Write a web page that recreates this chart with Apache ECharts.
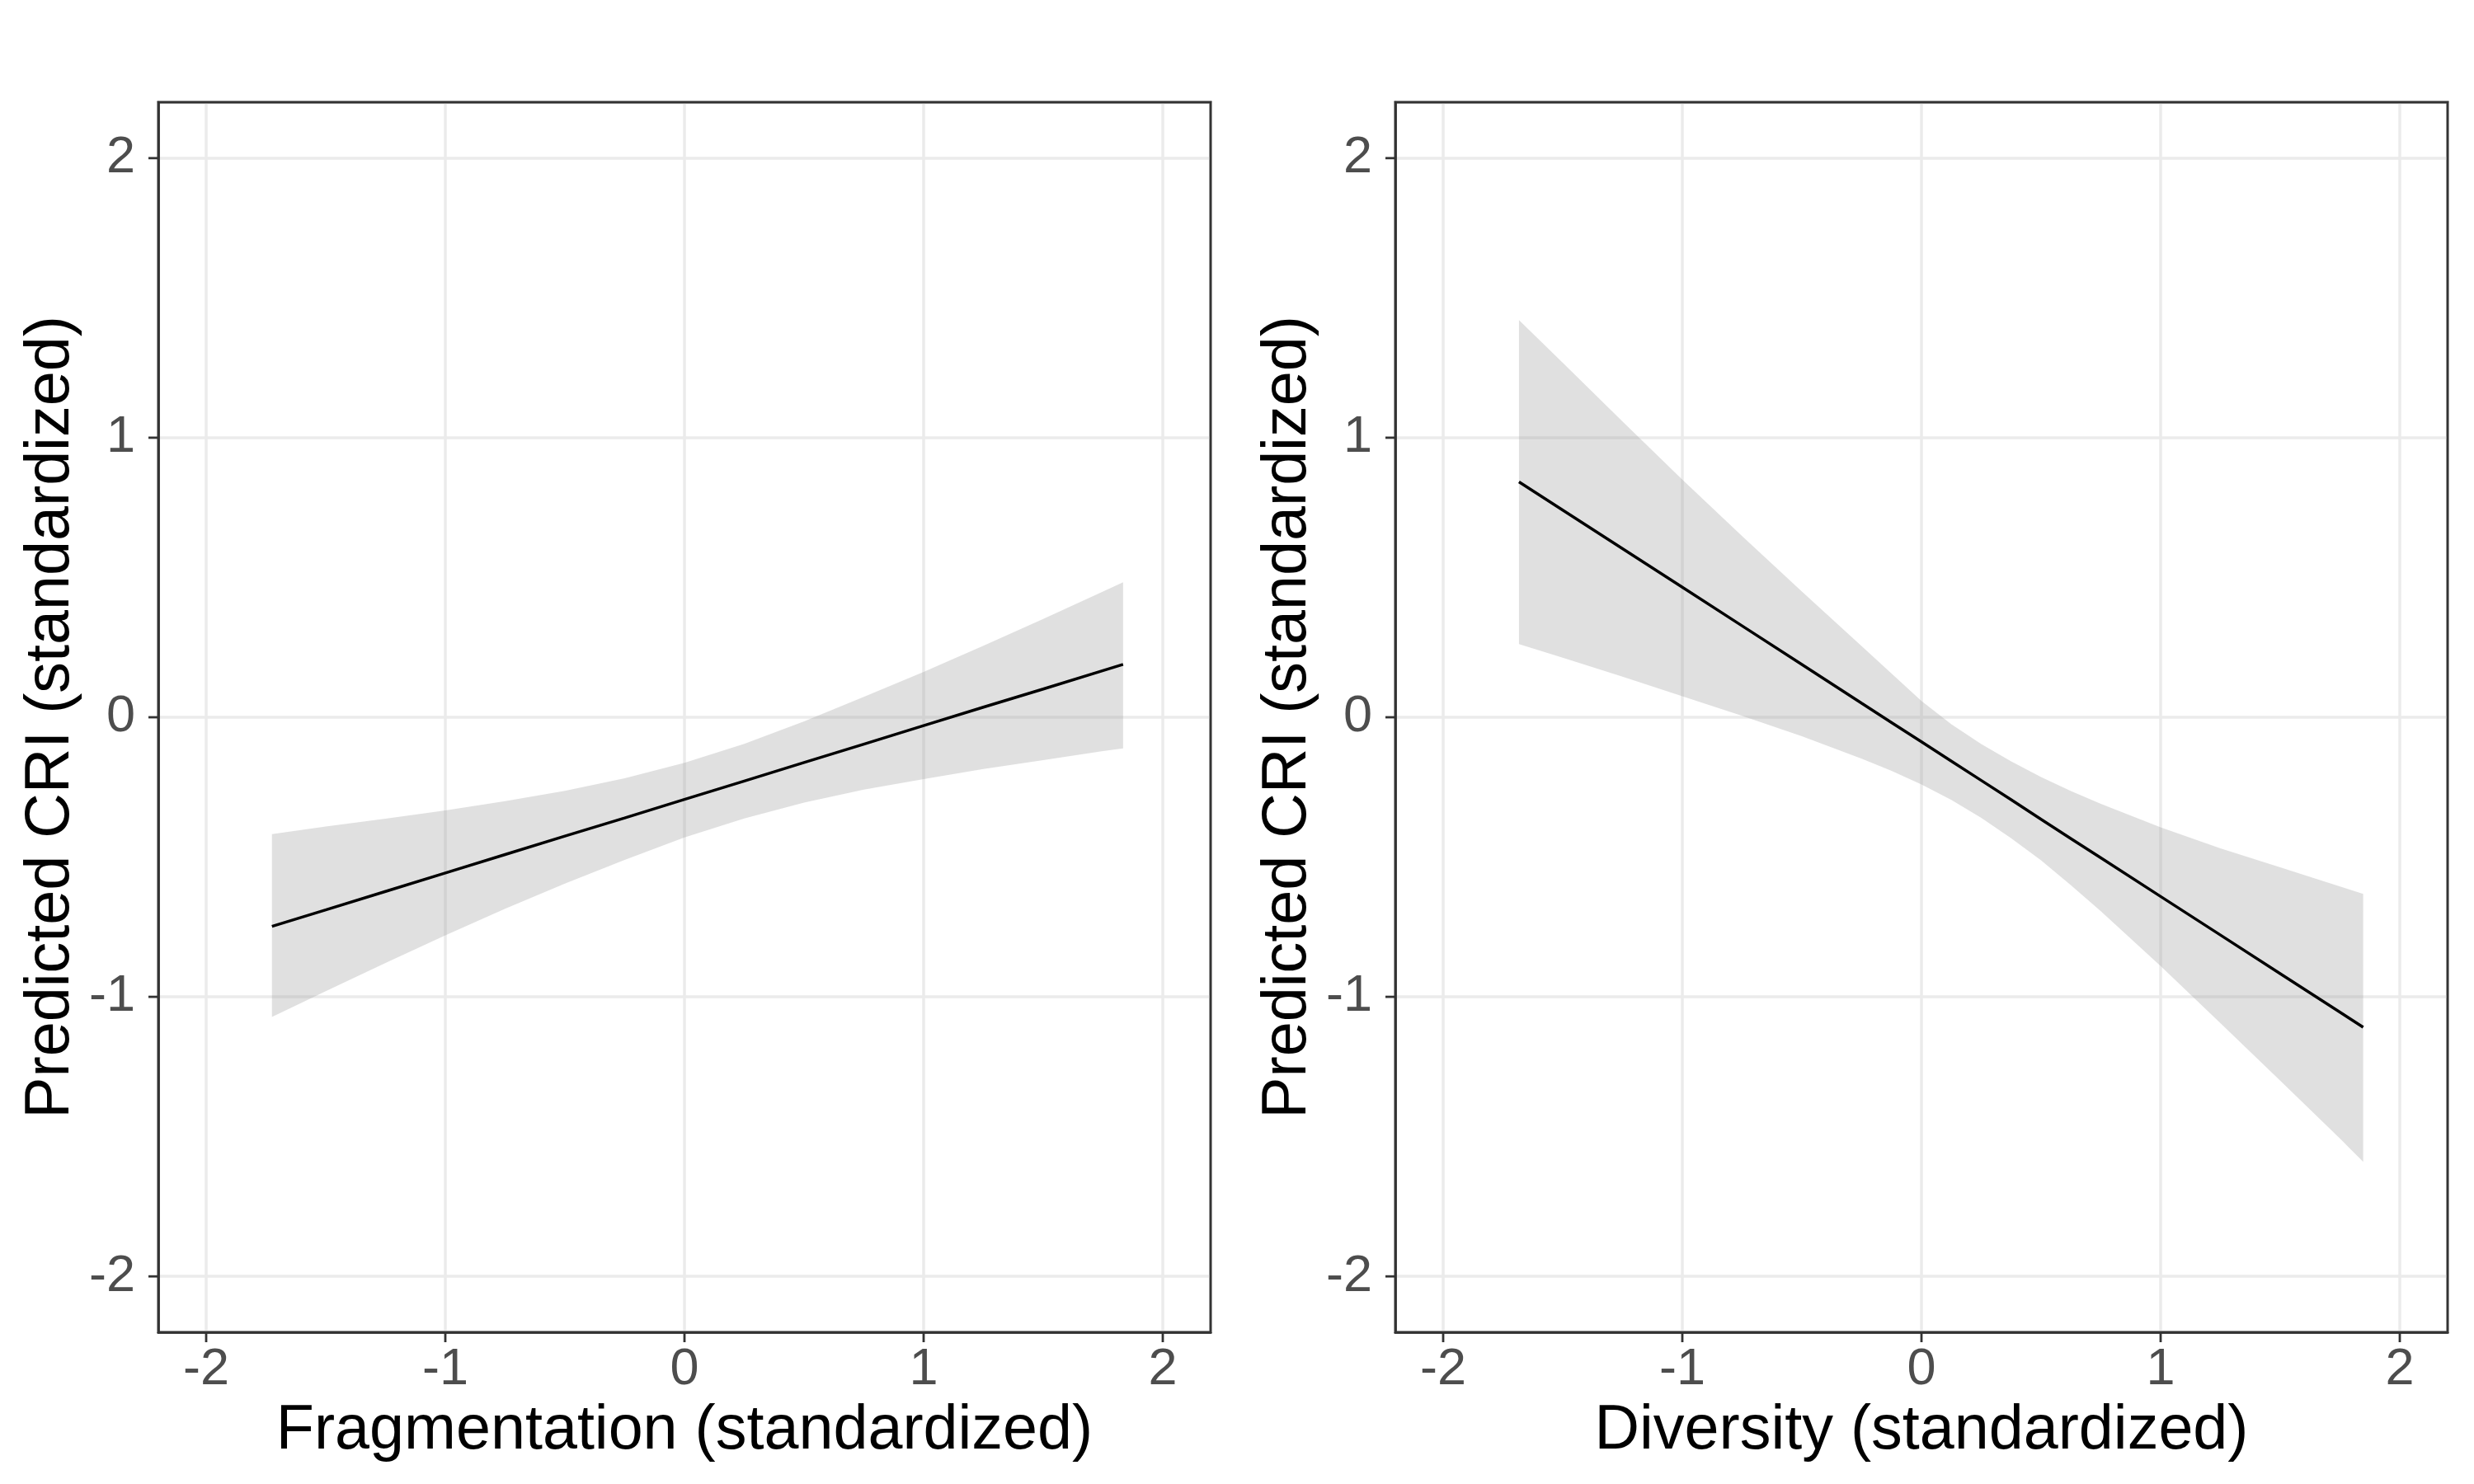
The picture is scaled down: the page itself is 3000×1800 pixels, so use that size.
<!DOCTYPE html>
<html>
<head>
<meta charset="utf-8">
<script src="https://cdn.jsdelivr.net/npm/echarts@6/dist/echarts.min.js"></script>
<style>
html,body{margin:0;padding:0;background:#ffffff;}
#chart{width:3000px;height:1800px;}
</style>
</head>
<body>
<div id="chart"></div>
<script>
// ---- tick labels ----
const tickValues = [-2, -1, 0, 1, 2];

// ---- axis titles ----
const yTitle = 'Predicted CRI (standardized)';
const xTitleFrag = 'Fragmentation (standardized)';
const xTitleDiv = 'Diversity (standardized)';

// ---- Left panel: Fragmentation ----
const fragX     = [-1.725, -1.5, -1.25, -1.0, -0.75, -0.5, -0.25, 0, 0.25, 0.5, 0.75, 1.0, 1.25, 1.5, 1.75, 1.834];
const fragFit   = [-0.748, -0.689, -0.623, -0.557, -0.491, -0.425, -0.360, -0.294, -0.228, -0.162, -0.096, -0.030, 0.036, 0.101, 0.167, 0.189];
const fragLower = [-1.072, -0.980, -0.879, -0.780, -0.685, -0.595, -0.510, -0.430, -0.362, -0.305, -0.259, -0.221, -0.185, -0.153, -0.121, -0.111];
const fragUpper = [-0.418, -0.391, -0.363, -0.333, -0.300, -0.263, -0.218, -0.163, -0.095, -0.015, 0.073, 0.162, 0.256, 0.352, 0.450, 0.483];

// ---- Right panel: Diversity ----
const divX     = [-1.683, -1.5, -1.25, -1.0, -0.75, -0.5, -0.25, -0.125, 0, 0.125, 0.25, 0.375, 0.5, 0.625, 0.75, 1.0, 1.25, 1.5, 1.75, 1.847];
const divFit   = [0.842, 0.741, 0.603, 0.465, 0.327, 0.189, 0.050, -0.019, -0.088, -0.157, -0.226, -0.295, -0.365, -0.434, -0.503, -0.641, -0.779, -0.917, -1.055, -1.109];
const divLower = [0.262, 0.213, 0.145, 0.075, 0.005, -0.068, -0.148, -0.192, -0.240, -0.296, -0.360, -0.433, -0.512, -0.601, -0.694, -0.890, -1.094, -1.300, -1.507, -1.590];
const divUpper = [1.421, 1.268, 1.058, 0.850, 0.648, 0.450, 0.254, 0.156, 0.058, -0.025, -0.096, -0.158, -0.214, -0.264, -0.310, -0.394, -0.469, -0.537, -0.605, -0.632];

const FONT = '"Liberation Sans", Arial, Helvetica, sans-serif';
const AX_MIN = -2.2, AX_MAX = 2.2;
const TICK_LEN = 12;

function makeXAxis(gridIndex, title) {
  return {
    type: 'value', gridIndex: gridIndex, min: AX_MIN, max: AX_MAX,
    name: title, nameLocation: 'middle', nameGap: 70,
    nameTextStyle: { fontSize: 75.5, color: '#000000', fontFamily: FONT },
    axisLine: { show: true, onZero: false, lineStyle: { color: '#333333', width: 2.7 } },
    axisTick: { show: false },
    axisLabel: { show: true, customValues: tickValues, fontSize: 63, color: '#4d4d4d',
                 margin: 14, fontFamily: FONT },
    splitLine: { show: true, lineStyle: { color: '#ebebeb', width: 3.5 } }
  };
}
function makeYAxis(gridIndex) {
  return {
    type: 'value', gridIndex: gridIndex, min: AX_MIN, max: AX_MAX,
    name: yTitle, nameLocation: 'middle', nameGap: 92,
    nameTextStyle: { fontSize: 75.5, color: '#000000', fontFamily: FONT },
    axisLine: { show: true, onZero: false, lineStyle: { color: '#333333', width: 2.7 } },
    axisTick: { show: false },
    axisLabel: { show: true, customValues: tickValues, fontSize: 63, color: '#4d4d4d',
                 margin: 28, fontFamily: FONT },
    splitLine: { show: true, lineStyle: { color: '#ebebeb', width: 3.5 } }
  };
}

function bandSeries(axisIndex, xs, lower, upper) {
  return {
    type: 'custom', xAxisIndex: axisIndex, yAxisIndex: axisIndex, z: 2,
    clip: true, silent: true,
    encode: { x: 0, y: [1, 2] },
    data: xs.map((x, i) => [x, lower[i], upper[i]]),
    renderItem: function (params, api) {
      if (params.dataIndex !== 0) return null;
      const pts = [];
      for (let i = 0; i < xs.length; i++) pts.push(api.coord([xs[i], upper[i]]));
      for (let i = xs.length - 1; i >= 0; i--) pts.push(api.coord([xs[i], lower[i]]));
      return {
        type: 'polygon',
        shape: { points: pts },
        style: { fill: 'rgba(153,153,153,0.3)', stroke: null }
      };
    }
  };
}
function fitSeries(axisIndex, xs, ys) {
  return {
    type: 'line', xAxisIndex: axisIndex, yAxisIndex: axisIndex, z: 3,
    showSymbol: false, symbol: 'none', silent: true,
    data: xs.map((x, i) => [x, ys[i]]),
    lineStyle: { color: '#000000', width: 3.5 }
  };
}
// outward tick marks and panel frame, placed through the axes' scales
function tickSeries(axisIndex) {
  return {
    type: 'custom', xAxisIndex: axisIndex, yAxisIndex: axisIndex, z: 10,
    clip: false, silent: true,
    encode: { x: 0, y: 1 },
    data: tickValues.map(v => [v, v]),
    renderItem: function (params, api) {
      const v = api.value(0);
      const pb = api.coord([v, AX_MIN]);
      const pl = api.coord([AX_MIN, v]);
      const st = { stroke: '#333333', lineWidth: 2.8 };
      const children = [
        { type: 'line', shape: { x1: pb[0], y1: pb[1], x2: pb[0], y2: pb[1] + TICK_LEN }, style: st },
        { type: 'line', shape: { x1: pl[0], y1: pl[1], x2: pl[0] - TICK_LEN, y2: pl[1] }, style: st }
      ];
      if (params.dataIndex === 0) {
        const tl = api.coord([AX_MIN, AX_MAX]);
        const br = api.coord([AX_MAX, AX_MIN]);
        children.push({
          type: 'rect',
          shape: { x: tl[0], y: tl[1], width: br[0] - tl[0], height: br[1] - tl[1] },
          style: { fill: null, stroke: '#333333', lineWidth: 2.8 }
        });
      }
      return { type: 'group', children: children };
    }
  };
}

const chart = echarts.init(document.getElementById('chart'), null, { renderer: 'canvas' });
chart.setOption({
  backgroundColor: '#ffffff',
  animation: false,
  grid: [
    { left: 192, top: 124, width: 1276, height: 1492, show: true,
      borderColor: '#333333', borderWidth: 2.7, backgroundColor: 'transparent' },
    { left: 1692, top: 124, width: 1276, height: 1492, show: true,
      borderColor: '#333333', borderWidth: 2.7, backgroundColor: 'transparent' }
  ],
  xAxis: [ makeXAxis(0, xTitleFrag), makeXAxis(1, xTitleDiv) ],
  yAxis: [ makeYAxis(0), makeYAxis(1) ],
  series: [
    bandSeries(0, fragX, fragLower, fragUpper),
    fitSeries(0, fragX, fragFit),
    tickSeries(0),
    bandSeries(1, divX, divLower, divUpper),
    fitSeries(1, divX, divFit),
    tickSeries(1)
  ]
});
</script>
</body>
</html>
